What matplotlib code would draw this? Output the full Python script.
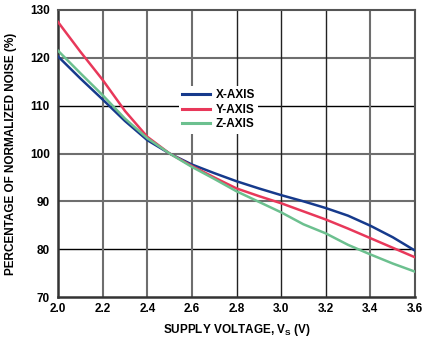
import matplotlib
matplotlib.use("Agg")
import matplotlib.pyplot as plt

voltage = [2.0, 2.1, 2.2, 2.3, 2.4, 2.5, 2.6, 2.7, 2.8, 2.9, 3.0, 3.1, 3.2, 3.3, 3.4, 3.5, 3.6]
x_axis = [120.3, 115.7, 111.3, 106.8, 102.8, 100.0, 97.7, 95.9, 94.2, 92.7, 91.3, 90.0, 88.6, 87.0, 84.9, 82.5, 79.7]
y_axis = [127.5, 121.3, 115.4, 108.9, 103.5, 100.0, 97.4, 95.0, 92.7, 91.1, 89.6, 87.9, 86.2, 84.3, 82.3, 80.3, 78.3]
z_axis = [121.5, 116.8, 112.2, 107.3, 103.2, 100.0, 97.2, 94.7, 92.1, 89.9, 87.7, 85.2, 83.3, 80.9, 78.9, 77.0, 75.3]
series_labels = ["X-AXIS", "Y-AXIS", "Z-AXIS"]
x_ticks = [2.0, 2.2, 2.4, 2.6, 2.8, 3.0, 3.2, 3.4, 3.6]
y_ticks = [70, 80, 90, 100, 110, 120, 130]

plt.rcParams['font.family'] = ['Liberation Sans', 'DejaVu Sans']

fig = plt.figure(figsize=(4.22, 3.39), dpi=100)
ax = fig.add_axes([58/422, 42/339, 357/422, 287/339])

ax.set_xlim(2.0, 3.6)
ax.set_ylim(70, 130)

# grid lines (mixed gray/black as in the reference)
gray_h = [90, 100, 120]
black_h = [80, 110]
gray_v = [2.2, 2.4, 2.6, 3.4]
black_v = [2.8, 3.0, 3.2]
for v in gray_h:
    ax.axhline(v, color='#6e6e6e', lw=1.5, zorder=1)
for v in black_h:
    ax.axhline(v, color='black', lw=1.0, zorder=1)
for v in gray_v:
    ax.axvline(v, color='#6e6e6e', lw=1.5, zorder=1)
for v in black_v:
    ax.axvline(v, color='#222222', lw=1.0, zorder=1)

colors = ['#163a8c', '#e8385a', '#6cc08f']
for data, lab, c in zip([x_axis, y_axis, z_axis], series_labels, colors):
    ax.plot(voltage, data, color=c, lw=1.8, label=lab, zorder=3)

ax.set_xticks(x_ticks)
ax.set_xticklabels([f"{t:.1f}" for t in x_ticks])
ax.set_yticks(y_ticks)
ax.set_yticklabels([str(t) for t in y_ticks])
ax.tick_params(length=0, labelsize=8.5)
ax.tick_params(axis='y', pad=6)
ax.tick_params(axis='x', pad=4)
for lbl in ax.get_xticklabels() + ax.get_yticklabels():
    lbl.set_fontweight('bold')

for s in ['left', 'bottom']:
    ax.spines[s].set_color('#333333')
    ax.spines[s].set_linewidth(1.8)
for s in ['top', 'right']:
    ax.spines[s].set_color('#555555')
    ax.spines[s].set_linewidth(1.5)

ax.set_xlabel('SUPPLY VOLTAGE, V$_\\mathregular{S}$ (V)', fontsize=8.5, fontweight='bold', labelpad=5)
ax.set_ylabel('PERCENTAGE OF NORMALIZED NOISE (%)', fontsize=8.5, fontweight='bold', labelpad=9)

leg = ax.legend(loc='upper left', bbox_to_anchor=((173-58)/357, (297-80)/287),
                frameon=True, fancybox=False, handlelength=2.3, handletextpad=0.5,
                labelspacing=0.2, borderpad=0.3, prop={'weight': 'bold', 'size': 8.5})
leg.get_frame().set_facecolor('white')
leg.get_frame().set_edgecolor('none')
leg.get_frame().set_alpha(1)
for line in leg.get_lines():
    line.set_linewidth(2.2)

fig.savefig('out.png', dpi=100)
